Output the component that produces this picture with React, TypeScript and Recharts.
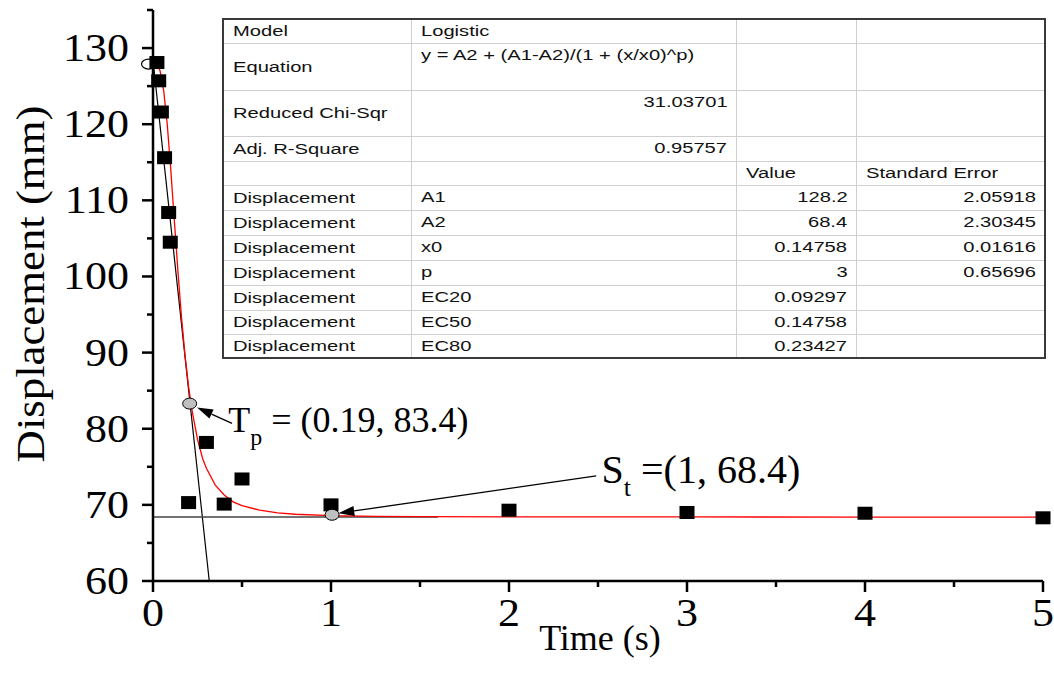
import {
  ComposedChart,
  Line,
  Scatter,
  XAxis,
  YAxis,
  ReferenceLine,
  ReferenceDot,
  Label,
} from "recharts";

const SERIF = '"Liberation Serif", "Times New Roman", serif';
const SANS = '"Liberation Sans", Arial, sans-serif';

// measured displacement points
const timeObs = [0.022, 0.032, 0.047, 0.065, 0.088, 0.097, 0.2, 0.3, 0.4, 0.5, 1, 2, 3, 4, 5];
const dispObs = [128.1, 125.7, 121.6, 115.6, 108.4, 104.5, 70.3, 78.2, 70.1, 73.4, 70.0, 69.3, 69.0, 68.9, 68.3];

// logistic fit curve as drawn (red)
const fitTime = [0, 0.02, 0.04, 0.06, 0.08, 0.1, 0.12, 0.14, 0.16, 0.18, 0.2, 0.22, 0.25, 0.28, 0.3, 0.35, 0.4, 0.45, 0.5, 0.6, 0.7, 0.8, 1, 1.25, 1.5, 2, 3, 4, 5];
const fitDisp = [128.2, 128.05, 127.0, 124.4, 120.0, 114.0, 107.3, 100.7, 94.7, 89.6, 85.5, 82.3, 78.6, 76.0, 74.8, 72.6, 71.3, 70.4, 69.9, 69.3, 68.95, 68.77, 68.59, 68.5, 68.46, 68.42, 68.41, 68.4, 68.4];

const xTicks = [0, 0.5, 1, 1.5, 2, 2.5, 3, 3.5, 4, 4.5, 5];
const yTicks = [60, 65, 70, 75, 80, 85, 90, 95, 100, 105, 110, 115, 120, 125, 130, 135];

// annotation anchors, in data units
const a1Mark = { x: -0.025, y: 127.9 };
const tpPoint = { x: 0.206, y: 83.3 };
const stPoint = { x: 1.006, y: 68.7 };
const tangentSeg = [{ x: 0, y: 128.4 }, { x: 0.316, y: 60 }];
const plateauSeg = [{ x: 0, y: 68.4 }, { x: 1.6, y: 68.4 }];
const tpArrowSeg = [{ x: 0.444, y: 80.7 }, { x: 0.247, y: 82.8 }];
const stArrowSeg = [{ x: 2.49, y: 73.8 }, { x: 1.041, y: 68.9 }];
const tpLabelAt = { x: 0.423, y: 79.6 };
const stLabelAt = { x: 2.52, y: 72.9 };

// fit report table
const tableColW = [188, 325, 120, 189];
const tableRowH = [24, 47, 46, 25, 24, 25, 25, 25, 25, 25, 24, 24];
const tableLabel = ["Model", "Equation", "Reduced Chi-Sqr", "Adj. R-Square", "", "Displacement", "Displacement", "Displacement", "Displacement", "Displacement", "Displacement", "Displacement"];
const tableParam = ["Logistic", "y = A2 + (A1-A2)/(1 + (x/x0)^p)", "31.03701", "0.95757", "", "A1", "A2", "x0", "p", "EC20", "EC50", "EC80"];
const tableValue = ["", "", "", "", "Value", "128.2", "68.4", "0.14758", "3", "0.09297", "0.14758", "0.23427"];
const tableError = ["", "", "", "", "Standard Error", "2.05918", "2.30345", "0.01616", "0.65696", "", "", ""];

const obsData = timeObs.map((x, i) => ({ x, y: dispObs[i] }));
const fitData = fitTime.map((x, i) => ({ x, y: fitDisp[i] }));

function XTick(props: any) {
  const { x, y, payload } = props;
  const v = payload.value;
  const major = Math.abs(v - Math.round(v)) < 1e-9;
  return (
    <g>
      <line x1={x} x2={x} y1={y} y2={y + (major ? 11 : 6)} stroke="#000" strokeWidth={2.5} />
      {major && (
        <text
          transform={`translate(${x} ${y + 45}) scale(1.1 1)`}
          textAnchor="middle"
          fontFamily={SERIF}
          fontSize={40}
          fill="#000"
        >
          {v}
        </text>
      )}
    </g>
  );
}

function YTick(props: any) {
  const { x, y, payload } = props;
  const v = payload.value;
  const major = v % 10 === 0;
  return (
    <g>
      <line x1={x - (major ? 11 : 6)} x2={x} y1={y} y2={y} stroke="#000" strokeWidth={2.5} />
      {major && (
        <text
          transform={`translate(${x - 24} ${y + 13}) scale(1.1 1)`}
          textAnchor="end"
          fontFamily={SERIF}
          fontSize={40}
          fill="#000"
        >
          {v}
        </text>
      )}
    </g>
  );
}

const XTitle = () => (
  <text x={600} y={650} textAnchor="middle" fontFamily={SERIF} fontSize={36} fill="#000">
    Time (s)
  </text>
);

const YTitle = () => (
  <text
    transform="translate(30 284) rotate(-90) scale(1.12 1)"
    textAnchor="middle"
    dominantBaseline="central"
    fontFamily={SERIF}
    fontSize={40}
    fill="#000"
  >
    Displacement (mm)
  </text>
);

const Square = (p: any) => <rect x={p.cx - 7.5} y={p.cy - 6.5} width={15} height={13} fill="#000" />;

function Arrow(props: any) {
  const { x1, y1, x2, y2 } = props;
  const dx = x2 - x1;
  const dy = y2 - y1;
  const len = Math.hypot(dx, dy) || 1;
  const ux = dx / len;
  const uy = dy / len;
  const bx = x2 - ux * 16;
  const by = y2 - uy * 16;
  return (
    <g>
      <line x1={x1} y1={y1} x2={bx} y2={by} stroke="#000" strokeWidth={1.3} />
      <polygon
        points={`${x2},${y2} ${bx - uy * 5},${by + ux * 5} ${bx + uy * 5},${by - ux * 5}`}
        fill="#000"
      />
    </g>
  );
}

const grayDot = (p: any) => (
  <ellipse cx={p.cx} cy={p.cy} rx={7} ry={5.5} fill="#c0c0c0" stroke="#000" strokeWidth={1} />
);
const openDot = (p: any) => (
  <ellipse cx={p.cx} cy={p.cy} rx={7} ry={5} fill="none" stroke="#000" strokeWidth={1.2} />
);

const tpLabel = (p: any) => (
  <text x={p.cx} y={p.cy} fontFamily={SERIF} fontSize={36} fill="#000">
    T<tspan dy={13} fontSize={24}>p</tspan>
    <tspan dy={-13}> = (0.19, 83.4)</tspan>
  </text>
);
const stLabel = (p: any) => (
  <text x={p.cx} y={p.cy} fontFamily={SERIF} fontSize={40} fill="#000">
    S<tspan dy={13} fontSize={26}>t</tspan>
    <tspan dy={-13}> =(1, 68.4)</tspan>
  </text>
);

function Cell({ text, col }: { text: string; col: number }) {
  const numeric = /^[\d.]+$/.test(text);
  const topAligned = col > 0;
  return (
    <td
      style={{
        boxSizing: "border-box",
        padding: topAligned ? "2px 8px 0 9px" : "0 8px 0 9px",
        verticalAlign: topAligned ? "top" : "middle",
        textAlign: numeric ? "right" : "left",
        border: "1px solid #cfcfcf",
        whiteSpace: "nowrap",
        overflow: "visible",
      }}
    >
      <span
        style={{
          display: "inline-block",
          transform: "scaleX(1.3)",
          transformOrigin: numeric ? "right center" : "left center",
        }}
      >
        {text}
      </span>
    </td>
  );
}

function FitTable() {
  return (
    <table
      style={{
        position: "absolute",
        left: 222,
        top: 18,
        width: 822,
        borderCollapse: "collapse",
        tableLayout: "fixed",
        border: "2px solid #3a3a3a",
        background: "#fff",
        fontFamily: SANS,
        fontSize: 15.5,
        color: "#111",
        lineHeight: "18px",
      }}
    >
      <colgroup>
        {tableColW.map((w, i) => (
          <col key={i} style={{ width: w }} />
        ))}
      </colgroup>
      <tbody>
        {tableRowH.map((h, r) => (
          <tr key={r} style={{ height: h }}>
            {[tableLabel[r], tableParam[r], tableValue[r], tableError[r]].map((t, c) => (
              <Cell key={c} text={t} col={c} />
            ))}
          </tr>
        ))}
      </tbody>
    </table>
  );
}

export default function App() {
  return (
    <div style={{ position: "absolute", left: 0, top: 0, width: 1054, height: 683, background: "#fff" }}>
      <ComposedChart width={1054} height={683} margin={{ top: 10, right: 11, bottom: 0, left: 0 }}>
        <XAxis
          type="number"
          dataKey="x"
          domain={[0, 5]}
          ticks={xTicks}
          interval={0}
          tick={XTick}
          tickLine={false}
          tickSize={0}
          tickMargin={0}
          axisLine={{ stroke: "#000", strokeWidth: 2.5 }}
          height={102}
        >
          <Label content={XTitle} />
        </XAxis>
        <YAxis
          type="number"
          dataKey="y"
          domain={[60, 135]}
          ticks={yTicks}
          interval={0}
          tick={YTick}
          tickLine={false}
          tickSize={0}
          tickMargin={0}
          axisLine={{ stroke: "#000", strokeWidth: 2.5 }}
          width={153}
        >
          <Label content={YTitle} />
        </YAxis>
        <ReferenceLine segment={tangentSeg} stroke="#000" strokeWidth={1.2} ifOverflow="visible" />
        <ReferenceLine segment={plateauSeg} stroke="#444" strokeWidth={1.5} ifOverflow="visible" />
        <Line
          data={fitData}
          dataKey="y"
          type="linear"
          stroke="#ff0000"
          strokeWidth={1.3}
          dot={false}
          activeDot={false}
          isAnimationActive={false}
        />
        <Scatter data={obsData} shape={Square} isAnimationActive={false} />
        <ReferenceDot x={a1Mark.x} y={a1Mark.y} r={6} ifOverflow="visible" shape={openDot} />
        <ReferenceDot x={tpPoint.x} y={tpPoint.y} r={6} ifOverflow="visible" shape={grayDot} />
        <ReferenceDot x={stPoint.x} y={stPoint.y} r={6} ifOverflow="visible" shape={grayDot} />
        <ReferenceLine segment={tpArrowSeg} ifOverflow="visible" shape={Arrow} />
        <ReferenceLine segment={stArrowSeg} ifOverflow="visible" shape={Arrow} />
        <ReferenceDot x={tpLabelAt.x} y={tpLabelAt.y} r={1} ifOverflow="visible" shape={tpLabel} />
        <ReferenceDot x={stLabelAt.x} y={stLabelAt.y} r={1} ifOverflow="visible" shape={stLabel} />
      </ComposedChart>
      <FitTable />
    </div>
  );
}
